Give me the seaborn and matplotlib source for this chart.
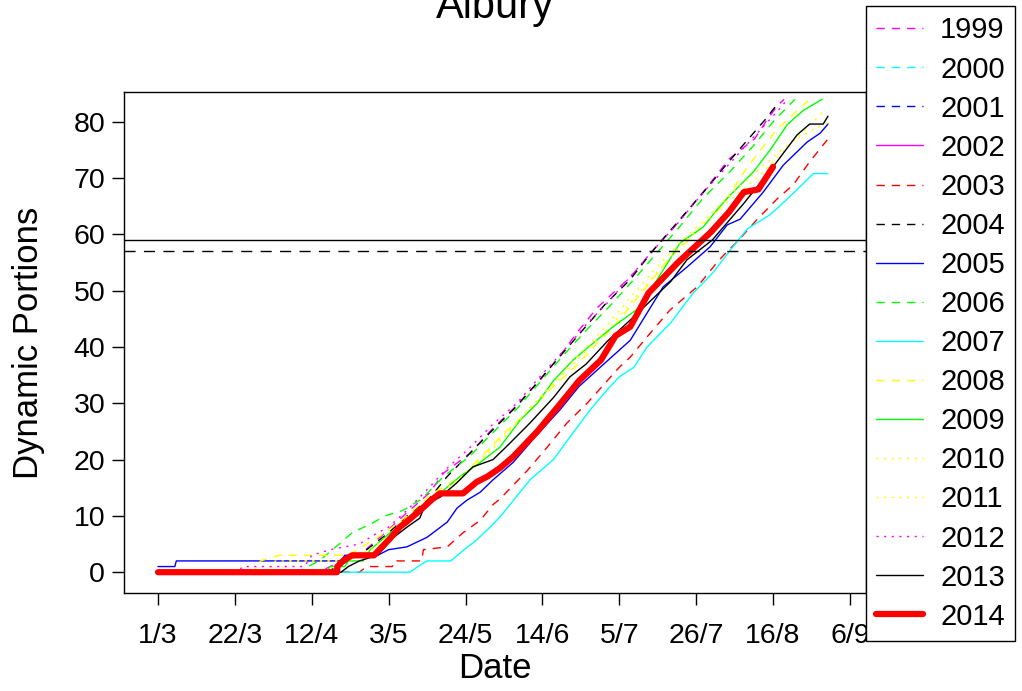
import pandas as pd
import matplotlib
matplotlib.use('Agg')
import matplotlib.pyplot as plt
from matplotlib.lines import Line2D
import seaborn as sns

sns.set_style('white')
plt.rcParams['font.family'] = ['Liberation Sans', 'DejaVu Sans']
plt.rcParams.update({'text.color': 'black', 'axes.labelcolor': 'black',
                     'xtick.color': 'black', 'ytick.color': 'black'})

# days counted from 1 March, cumulative dynamic portions
years = list(range(1999, 2015))

d1999 = [0, 44, 50, 55, 62, 67, 74, 78, 85, 91, 97, 104, 111, 115, 120, 129, 135, 141, 150, 156, 163, 166, 169, 171]
v1999 = [0, 0, 2, 3, 7, 10, 14, 17.6, 21, 25.2, 29, 33.8, 39.5, 43, 47, 52.4, 57, 61.3, 68.4, 73.4, 77, 80, 82.7, 84]
d2000, v2000 = [], []
d2001, v2001 = [], []
d2002, v2002 = [], []
d2003 = [0, 55, 57, 64, 64.5, 72, 72.5, 79, 83.3, 88, 91.5, 93.4, 100.8, 106.3, 111.7, 117.2, 122.7, 126, 129, 133.6, 139.9, 147.3, 152.7, 155.5, 158.2, 163.7, 169.1, 173.5, 178, 182.8]
v2003 = [0, 0, 1, 1, 2, 2, 4, 4.5, 7, 9.2, 12, 13, 18, 22.2, 26.5, 30, 34, 36.4, 38.2, 41.8, 46.6, 50.7, 55, 57, 58.7, 62.7, 66.3, 68.8, 72.9, 76.8]
d2004 = [0, 46, 52, 57, 63, 68, 74, 79, 85, 91, 98, 104, 110, 116, 122, 129, 135, 141, 149, 156, 162, 166, 169]
v2004 = [0, 0, 2, 4, 7, 10, 13, 17, 21, 25, 29.5, 34, 38.5, 43, 47.5, 52, 57, 61.5, 67.5, 73, 77.5, 80.5, 83]
d2005 = [0, 4.6, 5, 50, 51, 60, 63, 68, 73.5, 79, 81.7, 84.4, 88, 91.5, 97, 103, 110, 115, 120.8, 129, 138, 144.5, 150.8, 155.5, 159, 165.3, 170.8, 177.3, 180.9, 183]
v2005 = [1, 1, 2, 2, 3, 3, 4, 4.5, 6.2, 8.9, 11.4, 12.8, 14.2, 16.4, 19.5, 24, 29, 33, 36.4, 41.2, 50.7, 54.2, 57.8, 61.7, 62.7, 67.5, 72.3, 76.4, 78, 79.6]
d2006 = [0, 38, 44, 49.5, 53, 58.5, 62, 67, 72, 78, 85, 91, 98, 104, 110, 117, 123, 130, 136, 142, 149, 156, 163, 168, 174]
v2006 = [0, 0, 2, 5, 7, 8.7, 10, 11, 13, 17, 20.5, 24.5, 29, 33.5, 38, 43, 47, 52, 56.5, 61, 66.5, 71, 76, 80, 84]
d2007 = [0, 68.8, 71, 73.5, 80, 83.6, 87, 90.7, 93.4, 101.6, 108, 112.5, 118, 122.7, 126, 130, 133.6, 139.9, 146.2, 151.6, 156.3, 161, 167.2, 171.9, 176.2, 179, 183]
v2007 = [0, 0, 1, 2, 2, 4, 5.7, 8, 9.8, 16.4, 20, 24, 28.8, 32.4, 34.7, 36.4, 40, 44.2, 49.6, 53.2, 57.2, 61, 63.5, 66.3, 69, 70.8, 70.8]
d2008 = [0, 26, 28, 33, 52, 57, 62, 68, 75, 83, 89, 95, 102, 108, 114, 119, 125, 130, 135, 140, 145, 154, 161, 169, 178]
v2008 = [0, 0, 2, 3, 3, 5, 7, 10, 14, 17, 21, 25, 29, 33, 36.5, 40, 44, 48, 52, 56, 59, 65, 72, 78.6, 84]
d2009 = [0, 46, 47, 51, 52, 56, 58, 63.4, 70, 77, 82.5, 88, 93.4, 98.9, 103.6, 108, 113.4, 118.9, 124.3, 131.7, 138, 142.6, 148.9, 152.7, 156.3, 162.6, 167.2, 171.9, 176.2, 181.4]
v2009 = [0, 0, 1, 1, 2, 2, 4, 7, 10, 14, 17, 19.5, 22.2, 27, 30, 34, 37.7, 40.7, 43.6, 47.1, 53.7, 58.5, 61.3, 64.4, 67, 71.1, 75, 79.5, 82, 84]
d2010 = [0, 30, 32, 50, 55, 60, 65, 70, 76, 82, 88, 94, 100, 106, 112, 118, 124, 130, 136, 142, 150, 156, 164, 172, 182]
v2010 = [0, 0, 2, 2, 3, 5, 7.5, 10, 13.5, 16.5, 20, 24, 28, 32, 36, 40, 44, 48.5, 53, 57.5, 62.6, 66, 70.2, 75.5, 82]
d2011 = [0, 34, 36, 52, 56, 61, 66, 72, 78, 84, 90, 96, 102, 108, 114, 120, 126, 132, 138, 144, 150, 157, 165, 173, 183]
v2011 = [0, 0, 2, 2, 3, 5, 8, 11, 14, 17.5, 21, 25, 29.5, 33.5, 38, 42, 46.5, 51, 55.5, 59.5, 63, 67.5, 72, 76.5, 80]
d2012 = [0, 22, 23, 40, 42, 47, 55, 60, 63, 68, 74, 79, 85, 91, 98, 104, 111, 117, 123, 129, 135, 142, 149, 156, 163, 168, 172]
v2012 = [0, 0, 1, 1, 3, 4, 5, 7, 8, 11, 15, 18.5, 22, 26, 30, 34.5, 39.5, 44, 48, 52.5, 57, 62, 67.5, 72.5, 77.5, 81, 84]
d2013 = [0, 50, 52, 55, 60, 64, 68, 71.5, 73, 77, 81.5, 86, 91.5, 95, 101.6, 108, 112.5, 117, 122.7, 131, 140, 144.5, 151.4, 160, 168, 174.6, 178, 181.7, 183]
v2013 = [0, 0, 1, 2, 3, 6, 8, 9.6, 12, 13.3, 15.8, 18.7, 20, 22.2, 26.5, 31, 34.7, 37, 41, 46, 51.6, 55.5, 59, 65.5, 72, 77.7, 79.6, 79.6, 81]
d2014 = [0, 48.9, 49, 50.5, 53, 59, 63.4, 66, 68, 71.6, 75, 77, 83.3, 87, 90, 93.4, 97, 103.6, 110, 115, 121, 125, 129, 134, 142, 147, 151, 156, 160, 164, 168]
v2014 = [0, 0, 1, 2, 3, 3, 6, 8, 9, 11, 13, 14, 14, 16, 17, 18.5, 20.5, 25, 30, 34, 37.7, 42, 43.6, 49.6, 55, 58, 60.4, 64, 67.5, 68, 72]

all_days = [d1999, d2000, d2001, d2002, d2003, d2004, d2005, d2006,
            d2007, d2008, d2009, d2010, d2011, d2012, d2013, d2014]
all_vals = [v1999, v2000, v2001, v2002, v2003, v2004, v2005, v2006,
            v2007, v2008, v2009, v2010, v2011, v2012, v2013, v2014]

threshold_solid = 59
threshold_dashed = 57

tick_days = [0, 21, 42, 63, 84, 105, 126, 147, 168, 189]
tick_labels = ['1/3', '22/3', '12/4', '3/5', '24/5', '14/6', '5/7', '26/7', '16/8', '6/9']

# R-like line styles
dash = (0, (6, 5))
dot = (0, (1.5, 4))
colors = ['#ff00ff', '#00ffff', '#0000ff', '#ff00ff', '#ff0000', '#000000', '#0000ff', '#00ff00',
          '#00ffff', '#ffff00', '#00ff00', '#ffff00', '#ffff00', '#ff00ff', '#000000', '#ff0000']
styles = [dash, dash, dash, '-', dash, dash, '-', dash, '-', dash, '-', dot, dot, dot, '-', '-']
widths = [1] * 15 + [4.5]

frames = []
for yr, d, v in zip(years, all_days, all_vals):
    frames.append(pd.DataFrame({'day': d, 'portions': v, 'year': yr}))
df = pd.concat(frames, ignore_index=True)

fig = plt.figure(figsize=(10.22, 6.91), dpi=100)
ax = fig.add_axes([0.1213, 0.1418, 0.7261, 0.7251])

for yr, c, ls, lw in zip(years, colors, styles, widths):
    sub = df[df['year'] == yr]
    if sub.empty:
        continue
    sns.lineplot(data=sub, x='day', y='portions', ax=ax, color=c, linestyle=ls,
                 linewidth=lw, estimator=None, sort=False, errorbar=None)

ax.axhline(threshold_solid, color='black', linewidth=1)
ax.axhline(threshold_dashed, color='black', linewidth=1, linestyle=(0, (8, 6)))

ax.set_xlim(-9.3, 193.4)
ax.set_ylim(-3.7, 85.3)
ax.set_xticks(tick_days)
ax.set_xticklabels(tick_labels)
ax.set_yticks(range(0, 81, 10))
ax.tick_params(axis='both', direction='out', length=8.5, width=1, labelsize=20.5,
               bottom=True, left=True, color='black')
ax.tick_params(axis='x', pad=13)
ax.tick_params(axis='y', pad=5)
for s in ax.spines.values():
    s.set_color('black')
    s.set_linewidth(1)

ax.set_xlabel('Date', fontsize=25)
ax.set_ylabel('Dynamic Portions', fontsize=25)
ax.xaxis.set_label_coords(0.5, -0.118)
ax.yaxis.set_label_coords(-0.107, 0.5)

fig.text(0.4844, 1 - 18 / 691, 'Albury', ha='center', va='baseline', fontsize=30)

handles = [Line2D([], [], color=c, linestyle=ls, linewidth=lw)
           for c, ls, lw in zip(colors, styles, widths)]
leg = fig.legend(handles, [str(y) for y in years], loc='upper left',
                 bbox_to_anchor=(0.847, 0.991), fontsize=21, frameon=True,
                 fancybox=False, edgecolor='black', framealpha=1,
                 handlelength=1.6, handletextpad=0.6, labelspacing=0.38,
                 borderpad=0.35, borderaxespad=0)
leg.get_frame().set_linewidth(1)

fig.savefig('out.png', dpi=100)
